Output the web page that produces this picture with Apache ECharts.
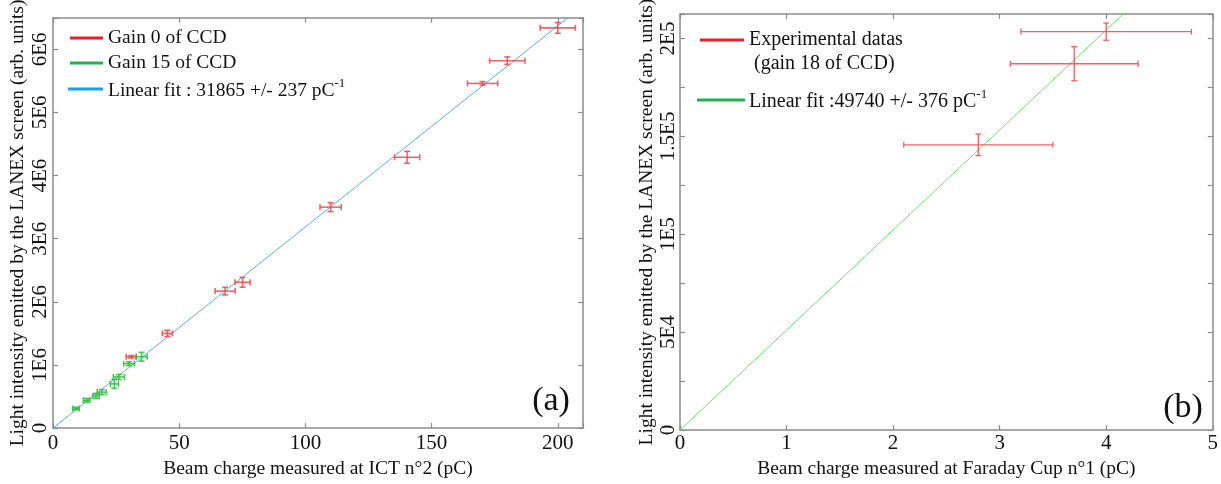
<!DOCTYPE html>
<html>
<head>
<meta charset="utf-8">
<script src="https://cdn.jsdelivr.net/npm/echarts@6/dist/echarts.min.js"></script>
<style>html,body{margin:0;padding:0;background:#fff}#c{width:1221px;height:484px}</style>
</head>
<body>
<div id="c"></div>
<script>
// ---- Panel (a) data ----
const gain0X    = [31, 45.3, 68.2, 75.1, 110, 140.3, 170.2, 180, 200];
const gain0Y    = [1.13e6, 1.50e6, 2.17e6, 2.31e6, 3.50e6, 4.29e6, 5.46e6, 5.82e6, 6.34e6];
const gain0Xerr = [2, 2, 4, 3, 4.2, 5, 6, 7, 7];
const gain0Yerr = [0.02e6, 0.05e6, 0.06e6, 0.078e6, 0.07e6, 0.095e6, 0.03e6, 0.06e6, 0.085e6];

const gain15X    = [9.1, 13.3, 17.0, 19.3, 24.3, 26.1, 30.1, 35.1];
const gain15Y    = [0.31e6, 0.44e6, 0.51e6, 0.57e6, 0.70e6, 0.81e6, 1.02e6, 1.13e6];
const gain15Xerr = [1.3, 1.3, 1.3, 1.8, 1.6, 2.2, 2.1, 2.2];
const gain15Yerr = [0.02e6, 0.03e6, 0.04e6, 0.04e6, 0.07e6, 0.04e6, 0.03e6, 0.07e6];

const fitAX = [0, 204];
const fitAY = [0, 6.5e6];

const xTicksA = [0, 50, 100, 150, 200];
const yTicksA = ['0', '1E6', '2E6', '3E6', '4E6', '5E6', '6E6'];

// ---- Panel (b) data ----
const expX    = [2.8, 3.7, 4.0];
const expY    = [145700, 187100, 203500];
const expXerr = [0.7, 0.6, 0.8];
const expYerr = [5500, 8700, 4400];

const fitBX = [0, 4.16];
const fitBY = [0, 212500];

const yTicksB = {0: '0', 50000: '5E4', 100000: '1E5', 150000: '1.5E5', 200000: '2E5'};

// ---- helpers ----
const FONT = 'Liberation Serif';
const zip4 = (a, b, c, d) => a.map((v, i) => [v, b[i], c[i], d[i]]);
const zip2 = (a, b) => a.map((v, i) => [v, b[i]]);

function errBar(color, width, cap, opacity) {
  return function (params, api) {
    const x = api.value(0), y = api.value(1), xe = api.value(2), ye = api.value(3);
    const c = api.coord([x, y]);
    const l = api.coord([x - xe, y])[0], r = api.coord([x + xe, y])[0];
    const t = api.coord([x, y + ye])[1], b = api.coord([x, y - ye])[1];
    const st = {stroke: color, lineWidth: width, opacity: opacity};
    const L = (x1, y1, x2, y2) => ({type: 'line', shape: {x1, y1, x2, y2}, style: st});
    return {type: 'group', children: [
      L(l, c[1], r, c[1]),
      L(l, c[1] - cap, l, c[1] + cap),
      L(r, c[1] - cap, r, c[1] + cap),
      L(c[0], t, c[0], b),
      L(c[0] - cap, t, c[0] + cap, t),
      L(c[0] - cap, b, c[0] + cap, b)
    ]};
  };
}

const AXC = '#8c8c8c';
const baseAxis = {
  axisLine: {show: true, onZero: false, lineStyle: {color: AXC, width: 1.5}},
  axisTick: {show: true, inside: true, length: 5, lineStyle: {color: AXC, width: 1.2}},
  splitLine: {show: false}
};
const labelStyle = {color: '#111', fontFamily: FONT, fontSize: 21};
const nameStyle = {color: '#111', fontFamily: FONT, fontSize: 19.5};

const chart = echarts.init(document.getElementById('c'), null, {renderer: 'canvas'});
chart.setOption({
  animation: false,
  backgroundColor: '#fff',
  grid: [
    {left: 53, top: 14, width: 530, height: 419},
    {left: 680, top: 14, width: 533, height: 423}
  ],
  xAxis: [
    Object.assign({}, baseAxis, {
      type: 'value', gridIndex: 0, position: 'bottom', min: 0, max: 210, interval: 50,
      axisLabel: Object.assign({}, labelStyle, {margin: 5,
        formatter: v => xTicksA.indexOf(v) >= 0 ? String(v) : ''}),
      name: 'Beam charge measured at ICT n°2 (pC)', nameLocation: 'middle', nameGap: 25,
      nameTextStyle: nameStyle
    }),
    Object.assign({}, baseAxis, {
      type: 'value', gridIndex: 0, position: 'top', min: 0, max: 210, interval: 50,
      axisLabel: {show: false}
    }),
    Object.assign({}, baseAxis, {
      type: 'value', gridIndex: 1, position: 'bottom', min: 0, max: 5, interval: 1,
      axisLabel: Object.assign({}, labelStyle, {margin: 3}),
      name: 'Beam charge measured at Faraday Cup n°1 (pC)', nameLocation: 'middle', nameGap: 23,
      nameTextStyle: nameStyle
    }),
    Object.assign({}, baseAxis, {
      type: 'value', gridIndex: 1, position: 'top', min: 0, max: 5, interval: 1,
      axisLabel: {show: false}
    })
  ],
  yAxis: [
    Object.assign({}, baseAxis, {
      type: 'value', gridIndex: 0, position: 'left', min: 0, max: 6.5e6, interval: 1e6,
      axisLabel: Object.assign({}, labelStyle, {rotate: 90, margin: 2,
        formatter: v => { const i = Math.round(v / 1e6); return (Math.abs(v - i * 1e6) < 1 && yTicksA[i]) ? yTicksA[i] : ''; }}),
      name: 'Light intensity emitted by the LANEX screen (arb. units)', nameLocation: 'middle', nameGap: 25,
      nameTextStyle: nameStyle
    }),
    Object.assign({}, baseAxis, {
      type: 'value', gridIndex: 0, position: 'right', min: 0, max: 6.5e6, interval: 1e6,
      axisLabel: {show: false}
    }),
    Object.assign({}, baseAxis, {
      type: 'value', gridIndex: 1, position: 'left', min: 0, max: 212500, interval: 25000,
      axisLabel: Object.assign({}, labelStyle, {rotate: 90, margin: 1,
        formatter: v => (yTicksB[v] !== undefined ? yTicksB[v] : '')}),
      name: 'Light intensity emitted by the LANEX screen (arb. units)', nameLocation: 'middle', nameGap: 22,
      nameTextStyle: nameStyle
    }),
    Object.assign({}, baseAxis, {
      type: 'value', gridIndex: 1, position: 'right', min: 0, max: 212500, interval: 25000,
      axisLabel: {show: false}
    })
  ],
  series: [
    {type: 'line', xAxisIndex: 0, yAxisIndex: 0, data: zip2(fitAX, fitAY), showSymbol: false,
     lineStyle: {color: '#5aaaf2', width: 1}, z: 2, silent: true},
    {type: 'custom', xAxisIndex: 0, yAxisIndex: 0, data: zip4(gain0X, gain0Y, gain0Xerr, gain0Yerr),
     encode: {x: 0, y: 1}, renderItem: errBar('#f04848', 1.6, 3, 0.85), z: 3},
    {type: 'custom', xAxisIndex: 0, yAxisIndex: 0, data: zip4(gain15X, gain15Y, gain15Xerr, gain15Yerr),
     encode: {x: 0, y: 1}, renderItem: errBar('#2ebd3a', 1.6, 3, 0.85), z: 3},
    {type: 'line', xAxisIndex: 2, yAxisIndex: 2, data: zip2(fitBX, fitBY), showSymbol: false,
     lineStyle: {color: '#6fdc6f', width: 1}, z: 2, silent: true},
    {type: 'custom', xAxisIndex: 2, yAxisIndex: 2, data: zip4(expX, expY, expXerr, expYerr),
     encode: {x: 0, y: 1}, renderItem: errBar('#f05050', 1.3, 3, 0.9), z: 3}
  ],
  graphic: [
    // legend (a)
    {type: 'line', shape: {x1: 70, y1: 38, x2: 103, y2: 38}, style: {stroke: '#e8202a', lineWidth: 3}},
    {type: 'line', shape: {x1: 70, y1: 63, x2: 103, y2: 63}, style: {stroke: '#22b14c', lineWidth: 3}},
    {type: 'line', shape: {x1: 68, y1: 89, x2: 103, y2: 89}, style: {stroke: '#12a4e8', lineWidth: 3}},
    {type: 'text', x: 108, y: 38, style: {text: 'Gain 0 of CCD', fill: '#111', font: '19.5px "Liberation Serif"', verticalAlign: 'middle'}},
    {type: 'text', x: 108, y: 63, style: {text: 'Gain 15 of CCD', fill: '#111', font: '19.5px "Liberation Serif"', verticalAlign: 'middle'}},
    {type: 'text', x: 108, y: 89, style: {
      text: '{t|Linear fit : 31865 +/- 237 pC}{s|-1}', verticalAlign: 'middle',
      rich: {t: {fill: '#111', fontFamily: FONT, fontSize: 19.5, verticalAlign: 'bottom'},
             s: {fill: '#111', fontFamily: FONT, fontSize: 13, verticalAlign: 'top', padding: [0, 0, 10, 0]}}}},
    // legend (b)
    {type: 'line', shape: {x1: 700, y1: 40, x2: 744, y2: 40}, style: {stroke: '#e8202a', lineWidth: 3}},
    {type: 'line', shape: {x1: 697, y1: 100, x2: 745, y2: 100}, style: {stroke: '#22b14c', lineWidth: 3}},
    {type: 'text', x: 749, y: 40, style: {text: 'Experimental datas', fill: '#111', font: '20px "Liberation Serif"', verticalAlign: 'middle'}},
    {type: 'text', x: 754, y: 64, style: {text: '(gain 18 of CCD)', fill: '#111', font: '20px "Liberation Serif"', verticalAlign: 'middle'}},
    {type: 'text', x: 749, y: 100, style: {
      text: '{t|Linear fit :49740 +/- 376 pC}{s|-1}', verticalAlign: 'middle',
      rich: {t: {fill: '#111', fontFamily: FONT, fontSize: 20, verticalAlign: 'bottom'},
             s: {fill: '#111', fontFamily: FONT, fontSize: 13, verticalAlign: 'top', padding: [0, 0, 10, 0]}}}},
    // panel labels
    {type: 'text', x: 551, y: 401, style: {text: '(a)', fill: '#111', font: '34px "Liberation Serif"', align: 'center', verticalAlign: 'middle'}},
    {type: 'text', x: 1183, y: 408, style: {text: '(b)', fill: '#111', font: '34px "Liberation Serif"', align: 'center', verticalAlign: 'middle'}}
  ]
});
</script>
</body>
</html>
